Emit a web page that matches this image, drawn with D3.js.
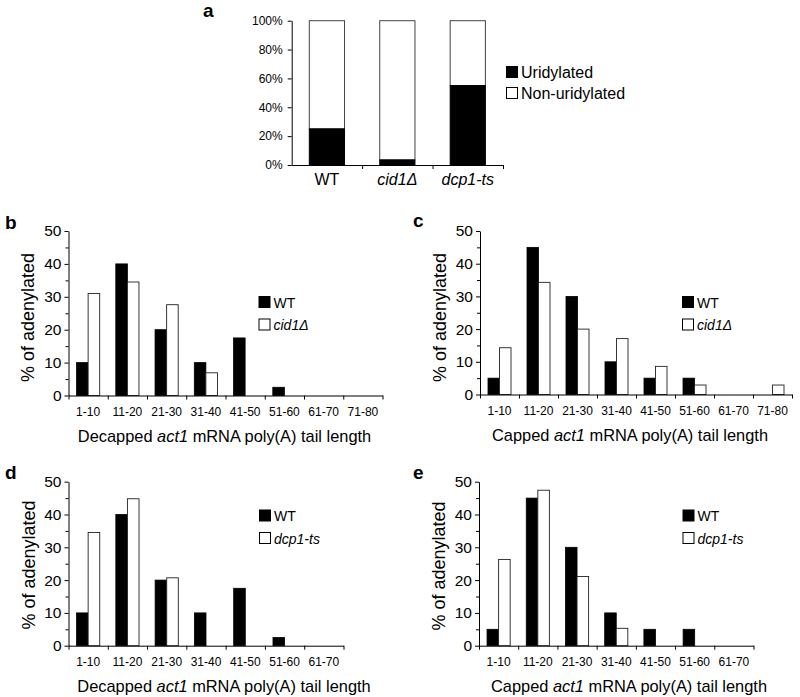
<!DOCTYPE html>
<html>
<head>
<meta charset="utf-8">
<script src="https://cdn.jsdelivr.net/npm/d3@7/dist/d3.min.js"></script>
<style>
  html, body { margin: 0; padding: 0; background: #fff; }
  svg { display: block; font-family: "Liberation Sans", Arial, Helvetica, sans-serif; }
  .domain { stroke: #000; }
  .tick line { stroke: #000; }
</style>
</head>
<body>
<svg id="chart" width="800" height="697"></svg>
<script>
// ---------- DATA ----------
// Panel a
const strainsA = ["WT", "cid1Δ", "dcp1-ts"];
const strainsItalic = [false, true, true];
const uridylated = [25, 3.5, 55];
const nonUridylated = [75, 96.5, 45];
const yTicksA = [0, 20, 40, 60, 80, 100];

// Panels b/c (8 bins) and d/e (7 bins)
const bins8 = ["1-10", "11-20", "21-30", "31-40", "41-50", "51-60", "61-70", "71-80"];
const bins7 = ["1-10", "11-20", "21-30", "31-40", "41-50", "51-60", "61-70"];
const decappedWT = [10, 40, 20, 10, 17.5, 2.5, 0, 0];
const decappedCid1 = [31.0, 34.5, 27.6, 6.9, 0, 0, 0, 0];
const cappedWT = [5, 45, 30, 10, 5, 5, 0, 0];
const cappedCid1 = [14.3, 34.3, 20.0, 17.1, 8.6, 2.9, 0, 2.9];
const decappedWTd = [10, 40, 20, 10, 17.5, 2.5, 0];
const decappedDcp1 = [34.5, 44.8, 20.7, 0, 0, 0, 0];
const cappedWTe = [5, 45, 30, 10, 5, 5, 0];
const cappedDcp1 = [26.3, 47.4, 21.1, 5.3, 0, 0, 0];
const yTicksMajor = [0, 10, 20, 30, 40, 50];
const yTicksMinor = [5, 15, 25, 35, 45];

// ---------- DRAWING ----------
const svg = d3.select("#chart");
const FONT = "\"Liberation Sans\", Arial, Helvetica, sans-serif";

function panelLetter(ch, x, y) {
  svg.append("text").attr("x", x).attr("y", y)
    .attr("font-size", 19).attr("font-weight", "bold").text(ch);
}

// Panel a
(function () {
  const x0 = 291.7, x1 = 503, yTop = 20.7, yBot = 165;
  const g = svg.append("g");
  const x = d3.scaleBand().domain(strainsA).range([x0, x1]).paddingInner(0).paddingOuter(0);
  const y = d3.scaleLinear().domain([0, 100]).range([yBot, yTop]);
  const bw = x.bandwidth() * 0.5;
  const off = (x.bandwidth() - bw) / 2;

  strainsA.forEach((s, i) => {
    g.append("rect")
      .attr("x", x(s) + off).attr("width", bw)
      .attr("y", y(uridylated[i] + nonUridylated[i])).attr("height", y(uridylated[i]) - y(uridylated[i] + nonUridylated[i]))
      .attr("fill", "#fff").attr("stroke", "#444").attr("stroke-width", 1);
    g.append("rect")
      .attr("x", x(s) + off).attr("width", bw)
      .attr("y", y(uridylated[i])).attr("height", y(0) - y(uridylated[i]))
      .attr("fill", "#000").attr("stroke", "#000").attr("stroke-width", 1);
  });

  const ya = g.append("g").attr("transform", `translate(${x0},0)`)
    .call(d3.axisLeft(y).tickValues(yTicksA).tickSize(4).tickSizeOuter(0).tickPadding(5).tickFormat(d => d + "%"));
  ya.selectAll("text").attr("font-size", 12).attr("font-family", FONT).attr("fill", "#000");
  ya.select(".domain").attr("stroke", "#444");

  const xi = d3.scaleLinear().domain([0, strainsA.length]).range([x0, x1]);
  const xa = g.append("g").attr("transform", `translate(0,${yBot})`)
    .call(d3.axisBottom(xi).tickValues(d3.range(1, strainsA.length + 1)).tickSize(4).tickSizeOuter(0).tickFormat(""));
  xa.select(".domain").attr("stroke", "#444");

  const xl = g.append("g").attr("transform", `translate(0,${yBot})`)
    .call(d3.axisBottom(x).tickSize(0).tickPadding(0));
  xl.select(".domain").remove();
  xl.selectAll("text").attr("font-size", 16).attr("font-family", FONT).attr("fill", "#000")
    .attr("dy", 0).attr("y", 20)
    .attr("font-style", (d, i) => strainsItalic[i] ? "italic" : "normal");

  const legItems = [["Uridylated", "#000"], ["Non-uridylated", "#fff"]];
  legItems.forEach((it, i) => {
    g.append("rect").attr("x", 506.5).attr("y", 66.5 + i * 21).attr("width", 11).attr("height", 11)
      .attr("fill", it[1]).attr("stroke", "#000").attr("stroke-width", 1);
    g.append("text").attr("x", 521).attr("y", 77.8 + i * 21).attr("font-size", 16).text(it[0]);
  });
  panelLetter("a", 203, 17);
})();

function histPanel(cfg) {
  const { cats, s1, s2, name2, x0, x1, yTop, yBot, xTitle, xTitleX, yTitleX, yTitleY, legX, legY } = cfg;
  const g = svg.append("g");
  const x = d3.scaleBand().domain(cats).range([x0, x1]).paddingInner(0).paddingOuter(0);
  const y = d3.scaleLinear().domain([0, 50]).range([yBot, yTop]);
  const step = x.bandwidth();
  const bw = step * 0.295;
  const off = (step - 2 * bw) / 2;

  cats.forEach((c, i) => {
    if (s1[i] > 0) g.append("rect").attr("x", x(c) + off).attr("width", bw)
      .attr("y", y(s1[i])).attr("height", y(0) - y(s1[i]))
      .attr("fill", "#000").attr("stroke", "#000").attr("stroke-width", 0.8);
    if (s2[i] > 0) g.append("rect").attr("x", x(c) + off + bw).attr("width", bw)
      .attr("y", y(s2[i])).attr("height", y(0) - y(s2[i]))
      .attr("fill", "#fff").attr("stroke", "#222").attr("stroke-width", 0.9);
  });

  const ya = g.append("g").attr("transform", `translate(${x0},0)`)
    .call(d3.axisLeft(y).tickValues(yTicksMajor).tickSize(4).tickSizeOuter(0).tickPadding(3));
  ya.selectAll("text").attr("font-size", 15.5).attr("font-family", FONT).attr("fill", "#000");
  const ym = g.append("g").attr("transform", `translate(${x0},0)`)
    .call(d3.axisLeft(y).tickValues(yTicksMinor).tickSize(3).tickFormat(""));
  ym.select(".domain").remove();

  const xi = d3.scaleLinear().domain([0, cats.length]).range([x0, x1]);
  g.append("g").attr("transform", `translate(0,${yBot})`)
    .call(d3.axisBottom(xi).tickValues(d3.range(0, cats.length + 1)).tickSize(4).tickSizeOuter(0).tickFormat(""));

  const xl = g.append("g").attr("transform", `translate(0,${yBot})`)
    .call(d3.axisBottom(x).tickSize(0).tickPadding(0));
  xl.select(".domain").remove();
  xl.selectAll("text").attr("font-size", 12).attr("font-family", FONT).attr("fill", "#000")
    .attr("dy", 0).attr("y", 20.5);

  const xt = g.append("text").attr("x", xTitleX).attr("y", yBot + 46).attr("text-anchor", "middle").attr("font-size", 16.4);
  xt.append("tspan").text(xTitle + " ");
  xt.append("tspan").attr("font-style", "italic").text("act1");
  xt.append("tspan").text(" mRNA poly(A) tail length");

  g.append("text").attr("transform", `translate(${yTitleX},${yTitleY}) rotate(-90)`)
    .attr("text-anchor", "middle").attr("font-size", 18).text("% of adenylated");

  [["WT", "#000", false], [name2, "#fff", true]].forEach((it, i) => {
    g.append("rect").attr("x", legX).attr("y", legY + i * 22.5).attr("width", 11).attr("height", 11)
      .attr("fill", it[1]).attr("stroke", "#000").attr("stroke-width", 1);
    g.append("text").attr("x", legX + 14.5).attr("y", legY + 11.2 + i * 22.5).attr("font-size", 14)
      .attr("font-style", it[2] ? "italic" : "normal").text(it[0]);
  });
}

histPanel({ cats: bins8, s1: decappedWT, s2: decappedCid1, name2: "cid1Δ",
  x0: 68.5, x1: 382.5, yTop: 231, yBot: 395.5, xTitle: "Decapped", xTitleX: 224.5,
  yTitleX: 34, yTitleY: 317.5, legX: 259, legY: 296.5 });
histPanel({ cats: bins8, s1: cappedWT, s2: cappedCid1, name2: "cid1Δ",
  x0: 480, x1: 792, yTop: 231, yBot: 394.5, xTitle: "Capped", xTitleX: 630,
  yTitleX: 446, yTitleY: 317.5, legX: 682.5, legY: 296.5 });
histPanel({ cats: bins7, s1: decappedWTd, s2: decappedDcp1, name2: "dcp1-ts",
  x0: 68.5, x1: 343.5, yTop: 481.7, yBot: 645.7, xTitle: "Decapped", xTitleX: 224,
  yTitleX: 35, yTitleY: 565, legX: 259.5, legY: 510 });
histPanel({ cats: bins7, s1: cappedWTe, s2: cappedDcp1, name2: "dcp1-ts",
  x0: 479, x1: 753.5, yTop: 481.7, yBot: 645.7, xTitle: "Capped", xTitleX: 629,
  yTitleX: 445, yTitleY: 566, legX: 683, legY: 510 });

panelLetter("b", 5, 228.5);
panelLetter("c", 413, 226.5);
panelLetter("d", 5, 479);
panelLetter("e", 413, 479);
</script>
</body>
</html>
